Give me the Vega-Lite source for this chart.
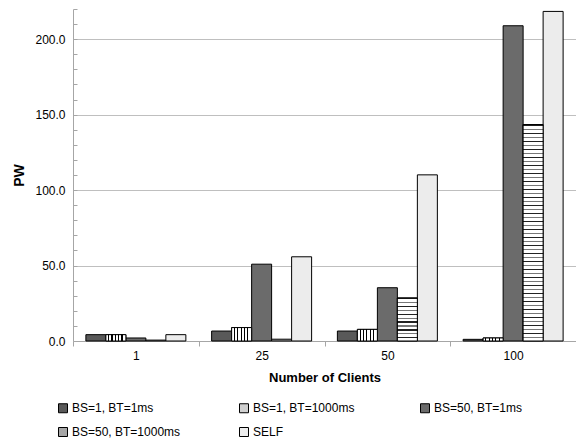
{
  "$schema": "https://vega.github.io/schema/vega-lite/v6.json",
  "autosize": "none",
  "padding": {"left": 73, "top": 9, "right": 0, "bottom": 100},
  "width": 503,
  "height": 332,
  "background": "white",
  "config": {"font": "Liberation Sans", "view": {"stroke": null}},
  "data": {
    "values": [
      {"clients": "1", "series": "BS=1, BT=1ms", "pw": 4.2},
      {"clients": "1", "series": "BS=1, BT=1000ms", "pw": 4.2},
      {"clients": "1", "series": "BS=50, BT=1ms", "pw": 2.0},
      {"clients": "1", "series": "BS=50, BT=1000ms", "pw": 0.6},
      {"clients": "1", "series": "SELF", "pw": 4.2},
      {"clients": "25", "series": "BS=1, BT=1ms", "pw": 6.6},
      {"clients": "25", "series": "BS=1, BT=1000ms", "pw": 8.9},
      {"clients": "25", "series": "BS=50, BT=1ms", "pw": 50.9},
      {"clients": "25", "series": "BS=50, BT=1000ms", "pw": 1.2},
      {"clients": "25", "series": "SELF", "pw": 55.8},
      {"clients": "50", "series": "BS=1, BT=1ms", "pw": 6.6},
      {"clients": "50", "series": "BS=1, BT=1000ms", "pw": 7.7},
      {"clients": "50", "series": "BS=50, BT=1ms", "pw": 35.3},
      {"clients": "50", "series": "BS=50, BT=1000ms", "pw": 28.5},
      {"clients": "50", "series": "SELF", "pw": 110.1},
      {"clients": "100", "series": "BS=1, BT=1ms", "pw": 1.1},
      {"clients": "100", "series": "BS=1, BT=1000ms", "pw": 2.0},
      {"clients": "100", "series": "BS=50, BT=1ms", "pw": 208.9},
      {"clients": "100", "series": "BS=50, BT=1000ms", "pw": 143.4},
      {"clients": "100", "series": "SELF", "pw": 218.4}
    ]
  },
  "encoding": {
    "x": {
      "field": "clients", "type": "ordinal", "sort": ["1", "25", "50", "100"],
      "scale": {"paddingInner": 0, "paddingOuter": 0},
      "axis": {
        "title": "Number of Clients", "labelAngle": 0, "tickBand": "extent",
        "domainColor": "#a6a6a6", "tickColor": "#a6a6a6", "tickSize": 5,
        "labelFontSize": 12, "labelColor": "#000", "labelPadding": 4,
        "titleFontSize": 13, "titleFontWeight": "bold", "titlePadding": 10, "titleColor": "#000"
      }
    },
    "xOffset": {
      "field": "series", "type": "nominal",
      "sort": ["BS=1, BT=1ms", "BS=1, BT=1000ms", "BS=50, BT=1ms", "BS=50, BT=1000ms", "SELF"],
      "scale": {"domain": ["BS=1, BT=1ms", "BS=1, BT=1000ms", "BS=50, BT=1ms", "BS=50, BT=1000ms", "SELF"], "paddingInner": 0, "paddingOuter": 0.644}
    },
    "y": {
      "field": "pw", "type": "quantitative",
      "scale": {"domain": [0, 220], "nice": false},
      "axis": {
        "title": "PW",
        "values": [0, 10, 20, 30, 40, 50, 60, 70, 80, 90, 100, 110, 120, 130, 140, 150, 160, 170, 180, 190, 200, 210, 220],
        "labelExpr": "datum.value % 50 === 0 ? format(datum.value, '.1f') : ''",
        "grid": true,
        "gridColor": "#bfbfbf",
        "gridOpacity": {"condition": {"test": "datum.value % 50 === 0 && datum.value > 0", "value": 1}, "value": 0},
        "domainColor": "#a6a6a6", "tickColor": "#a6a6a6", "tickSize": -4,
        "labelFontSize": 12, "labelColor": "#000", "labelPadding": 12,
        "titleFontSize": 14, "titleFontWeight": "bold", "titlePadding": 8, "titleColor": "#000"
      }
    }
  },
  "layer": [
    {
      "mark": {"type": "bar", "stroke": "black", "strokeWidth": 1},
      "encoding": {
        "fill": {
          "field": "series", "type": "nominal",
          "scale": {
            "domain": ["BS=1, BT=1ms", "BS=1, BT=1000ms", "BS=50, BT=1ms", "BS=50, BT=1000ms", "SELF"],
            "range": ["#595959", "#d0d0d0", "#6b6b6b", "#a6a6a6", "#ececec"]
          },
          "legend": {
            "orient": "none", "legendX": -16, "legendY": 393,
            "direction": "horizontal", "columns": 3, "title": null,
            "symbolType": "square", "symbolSize": 81, "symbolStrokeColor": "black", "symbolStrokeWidth": 1,
            "labelFontSize": 12, "labelColor": "#000", "labelOffset": 3,
            "columnPadding": 56, "rowPadding": 10, "gridAlign": "all"
          }
        }
      }
    },
    {
      "transform": [{"filter": "datum.series === 'BS=1, BT=1000ms'"}],
      "mark": {
        "type": "bar", "stroke": "black", "strokeWidth": 1,
        "fill": {"gradient": "linear", "x1": 0, "y1": 0, "x2": 1, "y2": 0, "stops": [
          {"offset": 0, "color": "#ffffff"}, {"offset": 0.11, "color": "#ffffff"}, {"offset": 0.11, "color": "#000000"}, {"offset": 0.167, "color": "#000000"},
          {"offset": 0.167, "color": "#ffffff"}, {"offset": 0.278, "color": "#ffffff"}, {"offset": 0.278, "color": "#000000"}, {"offset": 0.333, "color": "#000000"},
          {"offset": 0.333, "color": "#ffffff"}, {"offset": 0.444, "color": "#ffffff"}, {"offset": 0.444, "color": "#000000"}, {"offset": 0.5, "color": "#000000"},
          {"offset": 0.5, "color": "#ffffff"}, {"offset": 0.611, "color": "#ffffff"}, {"offset": 0.611, "color": "#000000"}, {"offset": 0.667, "color": "#000000"},
          {"offset": 0.667, "color": "#ffffff"}, {"offset": 0.778, "color": "#ffffff"}, {"offset": 0.778, "color": "#000000"}, {"offset": 0.833, "color": "#000000"},
          {"offset": 0.833, "color": "#ffffff"}, {"offset": 1, "color": "#ffffff"}
        ]}
      }
    },
    {
      "transform": [{"filter": "datum.series === 'BS=50, BT=1000ms' && datum.pw > 10 && datum.pw < 100"}],
      "mark": {
        "type": "bar", "stroke": "black", "strokeWidth": 1,
        "fill": {"gradient": "linear", "x1": 0, "y1": 0, "x2": 0, "y2": 1, "stops": [
          {"offset": 0.0, "color": "#222"}, {"offset": 0.03, "color": "#222"}, {"offset": 0.03, "color": "#fff"}, {"offset": 0.0909, "color": "#fff"},
          {"offset": 0.0909, "color": "#777"}, {"offset": 0.1209, "color": "#777"}, {"offset": 0.1209, "color": "#fff"}, {"offset": 0.1818, "color": "#fff"},
          {"offset": 0.1818, "color": "#222"}, {"offset": 0.2118, "color": "#222"}, {"offset": 0.2118, "color": "#fff"}, {"offset": 0.2727, "color": "#fff"},
          {"offset": 0.2727, "color": "#777"}, {"offset": 0.3027, "color": "#777"}, {"offset": 0.3027, "color": "#fff"}, {"offset": 0.3636, "color": "#fff"},
          {"offset": 0.3636, "color": "#222"}, {"offset": 0.3936, "color": "#222"}, {"offset": 0.3936, "color": "#fff"}, {"offset": 0.4545, "color": "#fff"},
          {"offset": 0.4545, "color": "#777"}, {"offset": 0.4845, "color": "#777"}, {"offset": 0.4845, "color": "#fff"}, {"offset": 0.5455, "color": "#fff"},
          {"offset": 0.5455, "color": "#222"}, {"offset": 0.5755, "color": "#222"}, {"offset": 0.5755, "color": "#fff"}, {"offset": 0.6364, "color": "#fff"},
          {"offset": 0.6364, "color": "#777"}, {"offset": 0.6664, "color": "#777"}, {"offset": 0.6664, "color": "#fff"}, {"offset": 0.7273, "color": "#fff"},
          {"offset": 0.7273, "color": "#222"}, {"offset": 0.7573, "color": "#222"}, {"offset": 0.7573, "color": "#fff"}, {"offset": 0.8182, "color": "#fff"},
          {"offset": 0.8182, "color": "#777"}, {"offset": 0.8482, "color": "#777"}, {"offset": 0.8482, "color": "#fff"}, {"offset": 0.9091, "color": "#fff"},
          {"offset": 0.9091, "color": "#222"}, {"offset": 0.9391, "color": "#222"}, {"offset": 0.9391, "color": "#fff"}, {"offset": 1, "color": "#fff"}
        ]}
      }
    },
    {
      "transform": [{"filter": "datum.series === 'BS=50, BT=1000ms' && datum.pw >= 100"}],
      "mark": {
        "type": "bar", "stroke": "black", "strokeWidth": 1,
        "fill": {"gradient": "linear", "x1": 0, "y1": 0, "x2": 0, "y2": 1, "stops": [
          {"offset": 0.0000, "color": "#222"}, {"offset": 0.0060, "color": "#222"}, {"offset": 0.0060, "color": "#fff"}, {"offset": 0.0185, "color": "#fff"},
          {"offset": 0.0185, "color": "#777"}, {"offset": 0.0245, "color": "#777"}, {"offset": 0.0245, "color": "#fff"}, {"offset": 0.0370, "color": "#fff"},
          {"offset": 0.0370, "color": "#222"}, {"offset": 0.0430, "color": "#222"}, {"offset": 0.0430, "color": "#fff"}, {"offset": 0.0556, "color": "#fff"},
          {"offset": 0.0556, "color": "#777"}, {"offset": 0.0616, "color": "#777"}, {"offset": 0.0616, "color": "#fff"}, {"offset": 0.0741, "color": "#fff"},
          {"offset": 0.0741, "color": "#222"}, {"offset": 0.0801, "color": "#222"}, {"offset": 0.0801, "color": "#fff"}, {"offset": 0.0926, "color": "#fff"},
          {"offset": 0.0926, "color": "#777"}, {"offset": 0.0986, "color": "#777"}, {"offset": 0.0986, "color": "#fff"}, {"offset": 0.1111, "color": "#fff"},
          {"offset": 0.1111, "color": "#222"}, {"offset": 0.1171, "color": "#222"}, {"offset": 0.1171, "color": "#fff"}, {"offset": 0.1296, "color": "#fff"},
          {"offset": 0.1296, "color": "#777"}, {"offset": 0.1356, "color": "#777"}, {"offset": 0.1356, "color": "#fff"}, {"offset": 0.1481, "color": "#fff"},
          {"offset": 0.1481, "color": "#222"}, {"offset": 0.1541, "color": "#222"}, {"offset": 0.1541, "color": "#fff"}, {"offset": 0.1667, "color": "#fff"},
          {"offset": 0.1667, "color": "#777"}, {"offset": 0.1727, "color": "#777"}, {"offset": 0.1727, "color": "#fff"}, {"offset": 0.1852, "color": "#fff"},
          {"offset": 0.1852, "color": "#222"}, {"offset": 0.1912, "color": "#222"}, {"offset": 0.1912, "color": "#fff"}, {"offset": 0.2037, "color": "#fff"},
          {"offset": 0.2037, "color": "#777"}, {"offset": 0.2097, "color": "#777"}, {"offset": 0.2097, "color": "#fff"}, {"offset": 0.2222, "color": "#fff"},
          {"offset": 0.2222, "color": "#222"}, {"offset": 0.2282, "color": "#222"}, {"offset": 0.2282, "color": "#fff"}, {"offset": 0.2407, "color": "#fff"},
          {"offset": 0.2407, "color": "#777"}, {"offset": 0.2467, "color": "#777"}, {"offset": 0.2467, "color": "#fff"}, {"offset": 0.2593, "color": "#fff"},
          {"offset": 0.2593, "color": "#222"}, {"offset": 0.2653, "color": "#222"}, {"offset": 0.2653, "color": "#fff"}, {"offset": 0.2778, "color": "#fff"},
          {"offset": 0.2778, "color": "#777"}, {"offset": 0.2838, "color": "#777"}, {"offset": 0.2838, "color": "#fff"}, {"offset": 0.2963, "color": "#fff"},
          {"offset": 0.2963, "color": "#222"}, {"offset": 0.3023, "color": "#222"}, {"offset": 0.3023, "color": "#fff"}, {"offset": 0.3148, "color": "#fff"},
          {"offset": 0.3148, "color": "#777"}, {"offset": 0.3208, "color": "#777"}, {"offset": 0.3208, "color": "#fff"}, {"offset": 0.3333, "color": "#fff"},
          {"offset": 0.3333, "color": "#222"}, {"offset": 0.3393, "color": "#222"}, {"offset": 0.3393, "color": "#fff"}, {"offset": 0.3519, "color": "#fff"},
          {"offset": 0.3519, "color": "#777"}, {"offset": 0.3579, "color": "#777"}, {"offset": 0.3579, "color": "#fff"}, {"offset": 0.3704, "color": "#fff"},
          {"offset": 0.3704, "color": "#222"}, {"offset": 0.3764, "color": "#222"}, {"offset": 0.3764, "color": "#fff"}, {"offset": 0.3889, "color": "#fff"},
          {"offset": 0.3889, "color": "#777"}, {"offset": 0.3949, "color": "#777"}, {"offset": 0.3949, "color": "#fff"}, {"offset": 0.4074, "color": "#fff"},
          {"offset": 0.4074, "color": "#222"}, {"offset": 0.4134, "color": "#222"}, {"offset": 0.4134, "color": "#fff"}, {"offset": 0.4259, "color": "#fff"},
          {"offset": 0.4259, "color": "#777"}, {"offset": 0.4319, "color": "#777"}, {"offset": 0.4319, "color": "#fff"}, {"offset": 0.4444, "color": "#fff"},
          {"offset": 0.4444, "color": "#222"}, {"offset": 0.4504, "color": "#222"}, {"offset": 0.4504, "color": "#fff"}, {"offset": 0.4630, "color": "#fff"},
          {"offset": 0.4630, "color": "#777"}, {"offset": 0.4690, "color": "#777"}, {"offset": 0.4690, "color": "#fff"}, {"offset": 0.4815, "color": "#fff"},
          {"offset": 0.4815, "color": "#222"}, {"offset": 0.4875, "color": "#222"}, {"offset": 0.4875, "color": "#fff"}, {"offset": 0.5000, "color": "#fff"},
          {"offset": 0.5000, "color": "#777"}, {"offset": 0.5060, "color": "#777"}, {"offset": 0.5060, "color": "#fff"}, {"offset": 0.5185, "color": "#fff"},
          {"offset": 0.5185, "color": "#222"}, {"offset": 0.5245, "color": "#222"}, {"offset": 0.5245, "color": "#fff"}, {"offset": 0.5370, "color": "#fff"},
          {"offset": 0.5370, "color": "#777"}, {"offset": 0.5430, "color": "#777"}, {"offset": 0.5430, "color": "#fff"}, {"offset": 0.5556, "color": "#fff"},
          {"offset": 0.5556, "color": "#222"}, {"offset": 0.5616, "color": "#222"}, {"offset": 0.5616, "color": "#fff"}, {"offset": 0.5741, "color": "#fff"},
          {"offset": 0.5741, "color": "#777"}, {"offset": 0.5801, "color": "#777"}, {"offset": 0.5801, "color": "#fff"}, {"offset": 0.5926, "color": "#fff"},
          {"offset": 0.5926, "color": "#222"}, {"offset": 0.5986, "color": "#222"}, {"offset": 0.5986, "color": "#fff"}, {"offset": 0.6111, "color": "#fff"},
          {"offset": 0.6111, "color": "#777"}, {"offset": 0.6171, "color": "#777"}, {"offset": 0.6171, "color": "#fff"}, {"offset": 0.6296, "color": "#fff"},
          {"offset": 0.6296, "color": "#222"}, {"offset": 0.6356, "color": "#222"}, {"offset": 0.6356, "color": "#fff"}, {"offset": 0.6481, "color": "#fff"},
          {"offset": 0.6481, "color": "#777"}, {"offset": 0.6541, "color": "#777"}, {"offset": 0.6541, "color": "#fff"}, {"offset": 0.6667, "color": "#fff"},
          {"offset": 0.6667, "color": "#222"}, {"offset": 0.6727, "color": "#222"}, {"offset": 0.6727, "color": "#fff"}, {"offset": 0.6852, "color": "#fff"},
          {"offset": 0.6852, "color": "#777"}, {"offset": 0.6912, "color": "#777"}, {"offset": 0.6912, "color": "#fff"}, {"offset": 0.7037, "color": "#fff"},
          {"offset": 0.7037, "color": "#222"}, {"offset": 0.7097, "color": "#222"}, {"offset": 0.7097, "color": "#fff"}, {"offset": 0.7222, "color": "#fff"},
          {"offset": 0.7222, "color": "#777"}, {"offset": 0.7282, "color": "#777"}, {"offset": 0.7282, "color": "#fff"}, {"offset": 0.7407, "color": "#fff"},
          {"offset": 0.7407, "color": "#222"}, {"offset": 0.7467, "color": "#222"}, {"offset": 0.7467, "color": "#fff"}, {"offset": 0.7593, "color": "#fff"},
          {"offset": 0.7593, "color": "#777"}, {"offset": 0.7653, "color": "#777"}, {"offset": 0.7653, "color": "#fff"}, {"offset": 0.7778, "color": "#fff"},
          {"offset": 0.7778, "color": "#222"}, {"offset": 0.7838, "color": "#222"}, {"offset": 0.7838, "color": "#fff"}, {"offset": 0.7963, "color": "#fff"},
          {"offset": 0.7963, "color": "#777"}, {"offset": 0.8023, "color": "#777"}, {"offset": 0.8023, "color": "#fff"}, {"offset": 0.8148, "color": "#fff"},
          {"offset": 0.8148, "color": "#222"}, {"offset": 0.8208, "color": "#222"}, {"offset": 0.8208, "color": "#fff"}, {"offset": 0.8333, "color": "#fff"},
          {"offset": 0.8333, "color": "#777"}, {"offset": 0.8393, "color": "#777"}, {"offset": 0.8393, "color": "#fff"}, {"offset": 0.8519, "color": "#fff"},
          {"offset": 0.8519, "color": "#222"}, {"offset": 0.8579, "color": "#222"}, {"offset": 0.8579, "color": "#fff"}, {"offset": 0.8704, "color": "#fff"},
          {"offset": 0.8704, "color": "#777"}, {"offset": 0.8764, "color": "#777"}, {"offset": 0.8764, "color": "#fff"}, {"offset": 0.8889, "color": "#fff"},
          {"offset": 0.8889, "color": "#222"}, {"offset": 0.8949, "color": "#222"}, {"offset": 0.8949, "color": "#fff"}, {"offset": 0.9074, "color": "#fff"},
          {"offset": 0.9074, "color": "#777"}, {"offset": 0.9134, "color": "#777"}, {"offset": 0.9134, "color": "#fff"}, {"offset": 0.9259, "color": "#fff"},
          {"offset": 0.9259, "color": "#222"}, {"offset": 0.9319, "color": "#222"}, {"offset": 0.9319, "color": "#fff"}, {"offset": 0.9444, "color": "#fff"},
          {"offset": 0.9444, "color": "#777"}, {"offset": 0.9504, "color": "#777"}, {"offset": 0.9504, "color": "#fff"}, {"offset": 0.9630, "color": "#fff"},
          {"offset": 0.9630, "color": "#222"}, {"offset": 0.9690, "color": "#222"}, {"offset": 0.9690, "color": "#fff"}, {"offset": 0.9815, "color": "#fff"},
          {"offset": 0.9815, "color": "#777"}, {"offset": 0.9875, "color": "#777"}, {"offset": 0.9875, "color": "#fff"}, {"offset": 1, "color": "#fff"}
        ]}
      }
    }
  ]
}
